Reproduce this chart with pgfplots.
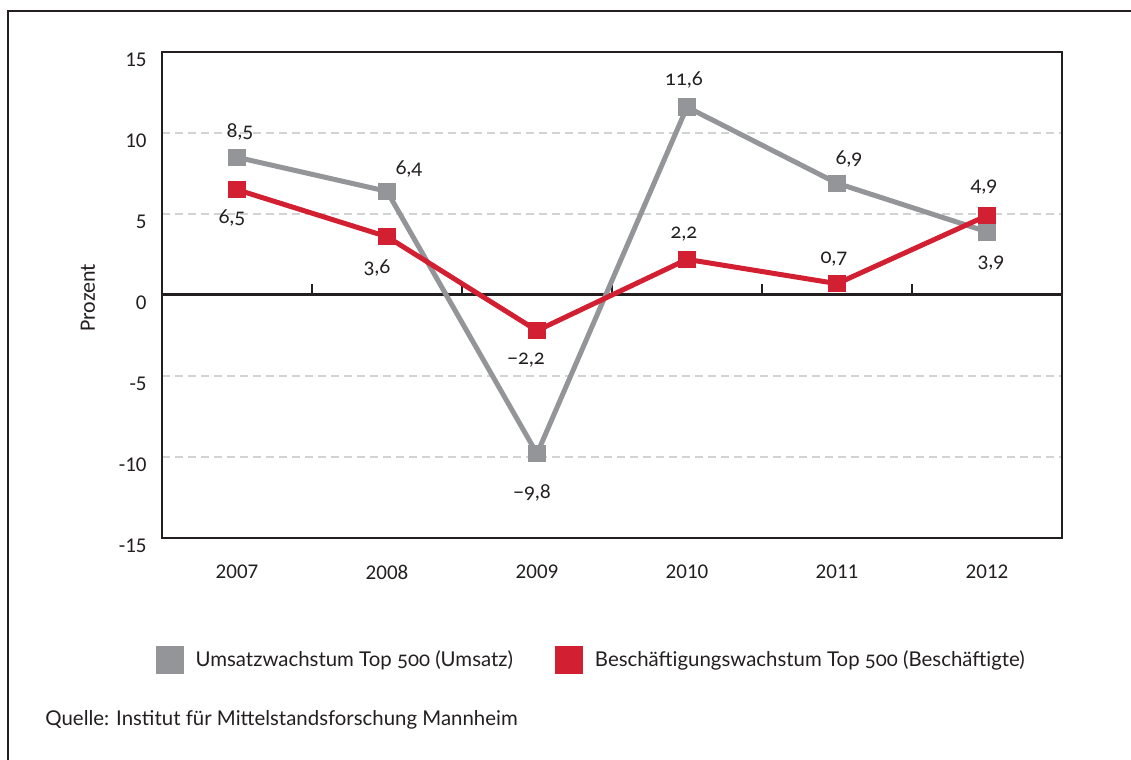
\documentclass[border=0pt]{standalone}
\usepackage{fontspec}
\setmainfont{Carlito}
\newfontfamily\osf{Lato}[Numbers=OldStyle]
\usepackage{pgfplots}
\usepackage{pgfplotstable}
\pgfplotsset{compat=1.18}

\definecolor{ugray}{HTML}{939598}
\definecolor{bred}{HTML}{D22032}
\definecolor{txt}{HTML}{231F20}
\definecolor{gridc}{HTML}{D1D3D4}

% x = year index, dx/dy = label offset in pt
\pgfplotstableread{
x y lab dx dy
0 8.5 8,5 1.5 12.5
1 6.4 6,4 11 11
2 -9.8 −9,8 -2.5 -19.5
3 11.6 11,6 -1.5 13.5
4 6.9 6,9 6 12
5 3.9 3,9 2 -15.5
}\umsatz

\pgfplotstableread{
x y lab dx dy
0 6.5 6,5 -2.5 -14
1 3.6 3,6 -5 -15.5
2 -2.2 −2,2 -5.5 -14.5
3 2.2 2,2 -1.5 12.5
4 0.7 0,7 -1.5 12.5
5 4.9 4,9 -1.5 14
}\beschaeft

\begin{document}
\begin{tikzpicture}
\useasboundingbox (0pt,0pt) rectangle (565.5pt,380pt);
\draw[txt, line width=0.6pt] (4pt,0pt) -- (4pt,374.5pt) -- (565.5pt,374.5pt);
\begin{axis}[
    at={(81pt,111pt)}, anchor=south west,
    scale only axis, width=450pt, height=243pt,
    xmin=-0.5, xmax=5.5, ymin=-15, ymax=15,
    xtick={0,...,5}, xticklabels={2007,2008,2009,2010,2011,2012},
    ytick={-15,-10,-5,0,5,10,15}, yticklabels={-15,-10,-5,0,5,10,15},
    major tick length=0pt,
    ymajorgrids,
    grid style={gridc, line width=1pt, dash pattern=on 4pt off 2.5pt},
    axis line style={txt, line width=1pt},
    xticklabel style={anchor=center, inner sep=0pt, yshift=-17pt, text=txt, font=\fontsize{10.5}{12}\selectfont},
    yticklabel style={anchor=east, inner sep=0pt, xshift=-7.5pt, yshift=-4pt, text=txt, font=\fontsize{10.5}{12}\selectfont},
    clip=false,
    point meta=explicit symbolic,
    visualization depends on={\thisrow{dx} \as \dx},
    visualization depends on={\thisrow{dy} \as \dy},
    nodes near coords,
    nodes near coords style={anchor=center, inner sep=0pt, xshift=\dx pt, yshift=\dy pt,
        text=txt, font=\osf\fontsize{10.2}{12}\selectfont},
    legend columns=2,
    legend style={draw=none, fill=none, at={(rel axis cs:0.478,0)}, anchor=center, yshift=-61pt,
        font=\osf\fontsize{10.2}{13}\selectfont, text=txt,
        /tikz/every odd column/.append style={column sep=4pt},
        /tikz/every even column/.append style={column sep=19pt}},
    legend image code/.code={\fill (0pt,-5.75pt) rectangle (11.5pt,5.75pt);},
]
\draw[txt, line width=1.5pt] (axis cs:-0.5,0) -- (axis cs:5.5,0);
\pgfplotsinvokeforeach{0.5,1.5,2.5,3.5,4.5}{
  \draw[txt, line width=1pt] (axis cs:#1,0) -- ++(0pt,5.5pt);
}
\addplot[color=ugray, line width=2.5pt, mark=square*, mark size=4.1pt,
    mark options={line width=0pt}]
    table[x=x, y=y, meta=lab] {\umsatz};
\addplot[color=bred, line width=2.5pt, mark=square*, mark size=4.1pt,
    mark options={line width=0pt}]
    table[x=x, y=y, meta=lab] {\beschaeft};
\legend{Umsatzwachstum Top 500 (Umsatz), Beschäftigungswachstum Top 500 (Beschäftigte)}
\end{axis}
\node[rotate=90, text=txt, font=\fontsize{11}{13}\selectfont] at (44pt,231pt) {Prozent};
\node[anchor=base west, inner sep=0pt, text=txt, font=\osf\fontsize{10.2}{13}\selectfont] at (22.5pt,17pt)
    {Quelle: Institut für Mittelstandsforschung Mannheim};
\end{tikzpicture}
\end{document}
